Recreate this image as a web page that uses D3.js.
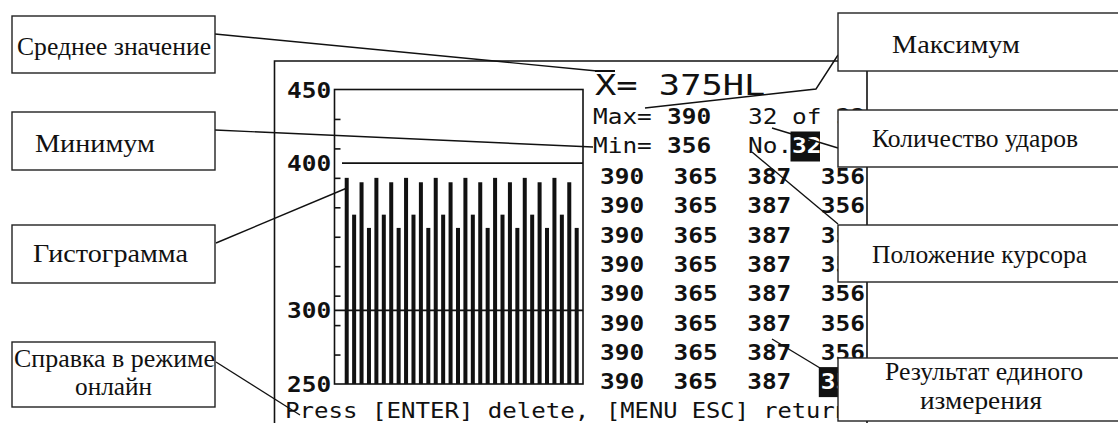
<!DOCTYPE html>
<html>
<head>
<meta charset="utf-8">
<script src="https://cdn.jsdelivr.net/npm/d3@7"></script>
<style>
  body { margin: 0; background: #fff; }
  .mono { font-family: "DejaVu Sans Mono", monospace; fill: #111; }
  .bold { font-weight: bold; }
  .serif { font-family: "Liberation Serif", "Tinos", "DejaVu Serif", "Times New Roman", serif; font-size: 25px; fill: #111; }
  .frame { fill: none; stroke: #111; stroke-width: 1.6; }
  .leader { fill: none; stroke: #111; stroke-width: 1.4; }
  .callout { fill: #fff; stroke: #222; stroke-width: 1.4; }
</style>
</head>
<body>
<svg id="chart" width="1118" height="423"></svg>
<script>
// readings shown on the device screen (32 impacts)
const readings = [
  390, 365, 387, 356,
  390, 365, 387, 356,
  390, 365, 387, 356,
  390, 365, 387, 356,
  390, 365, 387, 356,
  390, 365, 387, 356,
  390, 365, 387, 356,
  390, 365, 387, 356
];
const yLabelTicks = [450, 400, 300, 250];
const yMinorTicks = [270, 290, 310, 330, 350, 370, 390, 410, 430];
const refLines = [400, 300];

const MEAN = 375, MAX = 390, MIN = 356, COUNT = 32, CURSOR = 32;
const UNIT = "HL";
const helpLeft = "Press [ENTER] delete,";
const helpRight = "[MENU ESC] return";

const calloutTexts = [
  ["Среднее значение"],
  ["Минимум"],
  ["Гистограмма"],
  ["Справка в режиме", "онлайн"],
  ["Максимум"],
  ["Количество ударов"],
  ["Положение курсора"],
  ["Результат единого", "измерения"]
];

var svg = d3.select("svg#chart"),
    plot = {left: 334.5, right: 583, top: 89.5, bottom: 384},
    charW = 14.7,          // width of one screen character cell
    monoSize = 21,
    monoScale = charW / (0.602 * monoSize);

// SCALES
var y = d3.scaleLinear()
          .domain([250, 450])
          .range([plot.bottom, plot.top]);

var x = d3.scaleBand()
          .domain(d3.range(1, readings.length + 1))
          .range([343, 580.4])
          .paddingInner(0.46)
          .paddingOuter(0.23);

// helper for screen text (stretched monospace like the LCD font)
const monoText = (g, str, tx, ty, bold, fill, size, sx) => {
  return g.append("text")
    .attr("class", "mono" + (bold ? " bold" : ""))
    .attr("transform", `translate(${tx},${ty}) scale(${sx || monoScale},1)`)
    .style("font-size", (size || monoSize) + "px")
    .style("fill", fill || "#111")
    .text(str);
};

// SCREEN FRAME
svg.append("path")
   .attr("class", "frame")
   .attr("d", "M274.5,423 L274.5,61 L867,61 L867,423");

// PLOT BOX
svg.append("rect")
   .attr("class", "frame")
   .attr("x", plot.left)
   .attr("y", plot.top)
   .attr("width", plot.right - plot.left)
   .attr("height", plot.bottom - plot.top);

// minor ticks pointing inward
svg.append("g")
   .attr("transform", `translate(${plot.left},0)`)
   .call(d3.axisRight(y).tickValues(yMinorTicks).tickSize(6).tickSizeOuter(0).tickFormat(""))
   .call(g => g.select(".domain").remove())
   .call(g => g.selectAll("line").attr("stroke", "#111").attr("stroke-width", 1.6));

// reference lines
svg.selectAll(".ref")
   .data(refLines)
   .enter()
   .append("line")
     .attr("class", "ref")
     .attr("x1", d => d === 400 ? 342 : plot.left)
     .attr("x2", plot.right)
     .attr("y1", d => y(d))
     .attr("y2", d => y(d))
     .attr("stroke", "#111")
     .attr("stroke-width", 1.6);

// BARS
svg.append("g")
   .selectAll("rect")
   .data(readings)
   .enter()
   .append("rect")
     .attr("x", (d, i) => x(i + 1))
     .attr("y", d => y(d))
     .attr("width", x.bandwidth())
     .attr("height", d => plot.bottom - y(d))
     .attr("fill", "#111");

// y labels
var screen = svg.append("g");
yLabelTicks.forEach(v => monoText(screen, String(v), 287, y(v) + 8, true));

// mean
monoText(screen, `X= ${MEAN}${UNIT}`, 595, 95, false, "#111", 27.5, 21.3 / (0.602 * 27.5));
screen.append("line")
  .attr("x1", 595).attr("x2", 615)
  .attr("y1", 71).attr("y2", 71)
  .attr("stroke", "#111").attr("stroke-width", 2);

// max / min / count line
monoText(screen, "Max=", 593, 124, false);
monoText(screen, String(MAX), 667, 124, true);
monoText(screen, `${COUNT} of ${COUNT}`, 748, 124, false);
monoText(screen, "Min=", 593, 153, false);
monoText(screen, String(MIN), 667, 153, true);
monoText(screen, "No.", 748, 153, false);
screen.append("rect")
  .attr("x", 790.5).attr("y", 131.5)
  .attr("width", 29.5).attr("height", 30)
  .attr("fill", "#111");
monoText(screen, String(CURSOR), 792, 153, true, "#fff");

// reading table, 4 per row
var colX = d3.scaleLinear().domain([0, 1]).range([600, 673.6]);
var rowY = d3.scaleLinear().domain([0, 1]).range([176, 205.3]);

readings.forEach((d, i) => {
  const col = i % 4, row = Math.floor(i / 4);
  const tx = colX(col), ty = rowY(row) + 8;
  if (i === readings.length - 1) {
    screen.append("rect")
      .attr("x", tx - 2).attr("y", ty - 22)
      .attr("width", 46).attr("height", 30)
      .attr("fill", "#111");
    monoText(screen, String(d), tx, ty, true, "#fff");
  } else {
    monoText(screen, String(d), tx, ty, true);
  }
});

// help line
monoText(screen, helpLeft, 285, 418, false, "#111", monoSize, 14.5 / (0.602 * monoSize));
monoText(screen, helpRight, 606, 418, false, "#111", monoSize, 14.3 / (0.602 * monoSize));

// LEADER LINES
const leaders = [
  [[215, 34], [597, 71]],
  [[215, 130], [593, 147]],
  [[216, 243], [347, 188]],
  [[216, 362], [300, 415]],
  [[838, 55], [816, 89], [645, 108]],
  [[772, 128], [838, 148]],
  [[752, 152], [838, 224]],
  [[772, 339], [820, 368]]
];
svg.append("g")
   .selectAll("path")
   .data(leaders)
   .enter()
   .append("path")
     .attr("class", "leader")
     .attr("d", d3.line());

// CALLOUT BOXES
const boxes = [
  {x: 12, y: 16, w: 203, h: 57, lines: [[17, 55, 194]]},
  {x: 12, y: 112, w: 203, h: 58, lines: [[35, 152, 120]]},
  {x: 12, y: 225, w: 203, h: 58, lines: [[33, 262, 155]]},
  {x: 12, y: 342, w: 203, h: 65, lines: [[14, 367, 201], [75, 395, 77]]},
  {x: 838, y: 13, w: 290, h: 58, lines: [[892, 53, 128]]},
  {x: 838, y: 110, w: 290, h: 57, lines: [[872, 147, 206]]},
  {x: 838, y: 225, w: 290, h: 57, lines: [[872, 263, 215]]},
  {x: 838, y: 358, w: 290, h: 63, lines: [[885, 380, 198], [920, 409, 122]]}
];

var callouts = svg.append("g")
  .selectAll("g")
  .data(boxes)
  .enter()
  .append("g");

callouts.append("rect")
  .attr("class", "callout")
  .attr("x", d => d.x).attr("y", d => d.y)
  .attr("width", d => d.w).attr("height", d => d.h);

callouts.each(function(d, i) {
  const g = d3.select(this);
  d.lines.forEach((l, j) => {
    g.append("text")
      .attr("class", "serif")
      .attr("x", l[0]).attr("y", l[1])
      .attr("textLength", l[2])
      .attr("lengthAdjust", "spacingAndGlyphs")
      .text(calloutTexts[i][j]);
  });
});
</script>
</body>
</html>
